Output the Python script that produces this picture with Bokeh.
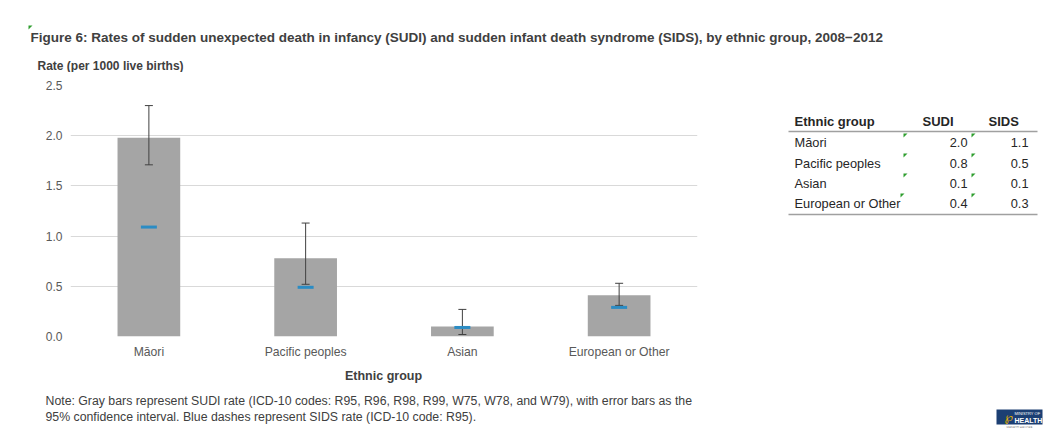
from bokeh.plotting import figure
from bokeh.layouts import column, row
from bokeh.models import (ColumnDataSource, FactorRange, Range1d, FixedTicker, Whisker,
                          TeeHead, NumeralTickFormatter)
from bokeh.core.properties import value
from bokeh.embed import file_html
from bokeh.resources import INLINE

# ---------------- data ----------------
groups = ["Māori", "Pacific peoples", "Asian", "European or Other"]
sudi = [1.98, 0.78, 0.10, 0.41]
sudi_lower = [1.71, 0.52, 0.02, 0.31]
sudi_upper = [2.30, 1.13, 0.27, 0.53]
sids = [1.09, 0.49, 0.09, 0.29]
table_sudi = ["2.0", "0.8", "0.1", "0.4"]
table_sids = ["1.1", "0.5", "0.1", "0.3"]
y_ticks = [0, 0.5, 1.0, 1.5, 2.0, 2.5]

title_text = ("Figure 6: Rates of sudden unexpected death in infancy (SUDI) and sudden infant "
              "death syndrome (SIDS), by ethnic group, 2008\u22122012")
y_title = "Rate (per 1000 live births)"
x_title = "Ethnic group"
note1 = ("Note: Gray bars represent SUDI rate (ICD-10 codes: R95, R96, R98, R99, W75, W78, and W79), "
         "with error bars as the")
note2 = "95% confidence interval. Blue dashes represent SIDS rate (ICD-10 code: R95)."
table_head = ["Ethnic group", "SUDI", "SIDS"]

FONT = "Liberation Sans"
TXT = "#404040"
GREEN = "#2e9e2e"


def canvas_fig(x0, x1, y0, y1, bt=0, bb=0):
    # a pixel-mapped figure: data coordinates equal page pixels
    f = figure(width=x1 - x0, height=y1 - y0 + bt + bb, x_range=Range1d(x0, x1),
               y_range=Range1d(y1, y0), output_backend="svg", toolbar_location=None, tools="",
               x_axis_location=None, y_axis_location=None, min_border=0,
               min_border_top=bt, min_border_bottom=bb,
               background_fill_color="white", border_fill_color="white")
    f.outline_line_color = None
    f.grid.grid_line_color = None
    f.grid.visible = False
    return f


def txt(f, X, Y, s, size="12px", bold=False, color=TXT, align="left", font=FONT):
    f.text(x=[X], y=[Y], text=[s], text_font=value(font), text_font_size=size,
           text_font_style="bold" if bold else "normal", text_color=color,
           text_align=align, text_baseline="middle")


def corner(f, X, Y, s=4):
    f.patch(x=[X, X + s, X], y=[Y, Y, Y + s], fill_color=GREEN, line_color=None)


# ---------------- top strip: title + y axis title ----------------
top = canvas_fig(0, 1045, 0, 72)
txt(top, 30, 37, title_text, size="13.5px", bold=True)
corner(top, 28, 25)
txt(top, 37, 65, y_title, size="12px", bold=True)

# ---------------- chart ----------------
src = ColumnDataSource(dict(g=groups, sudi=sudi, lo=sudi_lower, hi=sudi_upper, sids=sids))

p = figure(width=787, height=295, x_range=FactorRange(*groups, range_padding=0),
           y_range=Range1d(0, 2.5), output_backend="svg", toolbar_location=None, tools="",
           min_border_left=70, min_border_right=90, min_border_top=13, min_border_bottom=31,
           background_fill_color="white", border_fill_color="white")

p.vbar(x="g", top="sudi", width=0.4, source=src, fill_color="#a5a5a5", line_color=None)

whisk = Whisker(base="g", lower="lo", upper="hi", source=src, line_color="#404040", line_width=1,
                upper_head=TeeHead(size=8, line_color="#404040", line_width=1),
                lower_head=TeeHead(size=8, line_color="#404040", line_width=1))
whisk.level = "annotation"
p.add_layout(whisk)

dash = p.scatter(x="g", y="sids", marker="dash", size=16, line_width=3, line_color="#2b8cc4",
                 source=src)
dash.level = "overlay"

for ax in (p.xaxis[0], p.yaxis[0]):
    ax.axis_line_color = None
    ax.major_tick_line_color = None
    ax.minor_tick_line_color = None
    ax.major_label_text_font = FONT
    ax.major_label_text_color = "#595959"
p.xaxis[0].major_label_text_font_size = "12.2px"
p.yaxis[0].major_label_text_font_size = "12px"
p.yaxis[0].ticker = FixedTicker(ticks=y_ticks)
p.yaxis[0].formatter = NumeralTickFormatter(format="0.0")
p.yaxis[0].major_label_standoff = 2
p.xaxis[0].major_label_standoff = 2
p.xgrid.grid_line_color = None
p.ygrid.grid_line_color = "#d9d9d9"
p.ygrid.grid_line_width = 1
p.outline_line_color = None

# ---------------- table (frame aligned with the chart frame: page y 85..336) ----------------
tb = canvas_fig(787, 1045, 85, 336, bt=13, bb=31)
txt(tb, 794, 121, table_head[0], size="13px", bold=True, color="#262626")
txt(tb, 922, 121, table_head[1], size="13px", bold=True, color="#262626")
txt(tb, 988, 121, table_head[2], size="13px", bold=True, color="#262626")
tb.segment(x0=[788, 788], y0=[131, 214], x1=[1037, 1037], y1=[131, 214],
           line_color="#a0a0a0", line_width=1.5)
row_y = [142, 163, 183, 203]
row_top = [133, 153, 173, 193]
for i, g in enumerate(groups):
    txt(tb, 794, row_y[i], g, size="12.8px", color="#262626")
    txt(tb, 967, row_y[i], table_sudi[i], size="12.8px", color="#262626", align="right")
    txt(tb, 1028, row_y[i], table_sids[i], size="12.8px", color="#262626", align="right")
    corner(tb, 903 if i < 3 else 900, row_top[i])
    corner(tb, 971, row_top[i])

# ---------------- bottom strip: x title, note, logo ----------------
bt = canvas_fig(0, 1045, 367, 428)
txt(bt, 383, 375, x_title, size="12.5px", bold=True, align="center")
txt(bt, 45, 400, note1, size="12.3px")
txt(bt, 45, 416, note2, size="12.3px")
bt.quad(left=[996], right=[1042], top=[409], bottom=[424], fill_color="#1c3f73", line_color=None)
txt(bt, 1014, 413, "MINISTRY OF", size="4px", color="white")
txt(bt, 1014, 419.5, "HEALTH", size="7px", bold=True, color="white")
txt(bt, 1004, 416.5, "\u2118", size="12px", color="#e8b400", font="DejaVu Sans")
txt(bt, 1019, 427, "MANATŪ HAUORA", size="3px", color="#888888", align="center")

layout = column(top, row(p, tb), bt)
open("out.html", "w").write(file_html(layout, INLINE))
